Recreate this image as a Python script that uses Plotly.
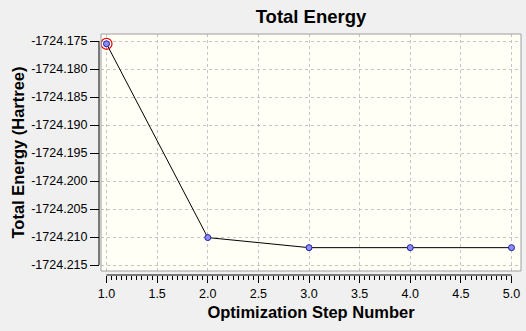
import numpy as np
import plotly.graph_objects as go

# ---- data ----
steps = [1.0, 2.0, 3.0, 4.0, 5.0]
energy = [-1724.1755, -1724.2101, -1724.2119, -1724.2119, -1724.2119]
selected_index = 0

x_tick_vals = [1.0, 1.5, 2.0, 2.5, 3.0, 3.5, 4.0, 4.5, 5.0]
x_tick_text = ["1.0", "1.5", "2.0", "2.5", "3.0", "3.5", "4.0", "4.5", "5.0"]
y_tick_vals = [-1724.175, -1724.180, -1724.185, -1724.190, -1724.195,
               -1724.200, -1724.205, -1724.210, -1724.215]
y_tick_text = ["-1724.175", "-1724.180", "-1724.185", "-1724.190", "-1724.195",
               "-1724.200", "-1724.205", "-1724.210", "-1724.215"]

title_text = "Total Energy"
x_title = "Optimization Step Number"
y_title = "Total Energy (Hartree)"

# ---- layout geometry ----
W, H = 526, 331
ml, mr, mt, mb = 99, 5, 34, 56
plot_w = W - ml - mr
plot_h = H - mt - mb
x_dom0 = 2 / plot_w
y_dom0 = 4 / plot_h

minor_x = [round(v, 2) for v in np.arange(min(steps), max(steps) + 1e-9, 0.05)]
minor_x = [v for v in minor_x if all(abs(v - t) > 1e-6 for t in x_tick_vals)]

font = "Liberation Sans, Arial, sans-serif"

fig = go.Figure()
fig.add_trace(go.Scatter(
    x=steps, y=energy, mode="lines+markers",
    line=dict(color="black", width=1),
    marker=dict(size=6, color="#8c8cff", line=dict(color="#2020a0", width=1)),
    hoverinfo="x+y", showlegend=False,
))
fig.add_trace(go.Scatter(
    x=[steps[selected_index]], y=[energy[selected_index]], mode="markers",
    marker=dict(size=11, symbol="circle-open", color="#e00000", line=dict(width=1.2)),
    hoverinfo="skip", showlegend=False,
))

grid = dict(showgrid=True, gridcolor="#c4c4c4", griddash="3px,3px", gridwidth=1)

fig.update_layout(
    width=W, height=H,
    margin=dict(l=ml, r=mr, t=mt, b=mb, pad=0),
    paper_bgcolor="#f0f0f0",
    plot_bgcolor="#fffff5",
    font=dict(family=font, size=12.5, color="black"),
    title=dict(text="<b>" + title_text + "</b>", x=(ml + plot_w * (1 + x_dom0) / 2) / W,
               xanchor="center", y=1 - 17 / H, yanchor="middle",
               font=dict(size=18.5, family=font, color="black")),
    xaxis=dict(
        domain=[x_dom0, 1], range=[0.9457, 5.0938], anchor="free", position=0,
        tickmode="array", tickvals=x_tick_vals, ticktext=x_tick_text,
        ticks="outside", ticklen=7, tickcolor="black", tickwidth=1,
        minor=dict(tickmode="array", tickvals=minor_x, ticks="outside", ticklen=4,
                   tickcolor="black", tickwidth=1, showgrid=False),
        showline=False, zeroline=False,
        title=dict(text="<b>" + x_title + "</b>", font=dict(size=16.5, family=font), standoff=6),
        **grid,
    ),
    yaxis=dict(
        domain=[y_dom0, 1], range=[-1724.21607, -1724.17375], anchor="free", position=0,
        tickmode="array", tickvals=y_tick_vals, ticktext=y_tick_text,
        ticks="outside", ticklen=9, tickcolor="black", tickwidth=1,
        showline=False, zeroline=False,
        title=dict(text="<b>" + y_title + "</b>", font=dict(size=16.5, family=font), standoff=1),
        **grid,
    ),
    shapes=[
        dict(type="rect", xref="x domain", yref="y domain", x0=0, x1=1, y0=0, y1=1,
             line=dict(color="#a0a0a0", width=1), fillcolor="rgba(0,0,0,0)", layer="above"),
        dict(type="line", xref="x", yref="paper", x0=min(x_tick_vals), x1=max(x_tick_vals),
             y0=0, y1=0, line=dict(color="black", width=1)),
        dict(type="line", xref="paper", yref="y", x0=0, x1=0,
             y0=min(y_tick_vals), y1=max(y_tick_vals), line=dict(color="black", width=1)),
    ],
)

fig.write_html("out.html")
